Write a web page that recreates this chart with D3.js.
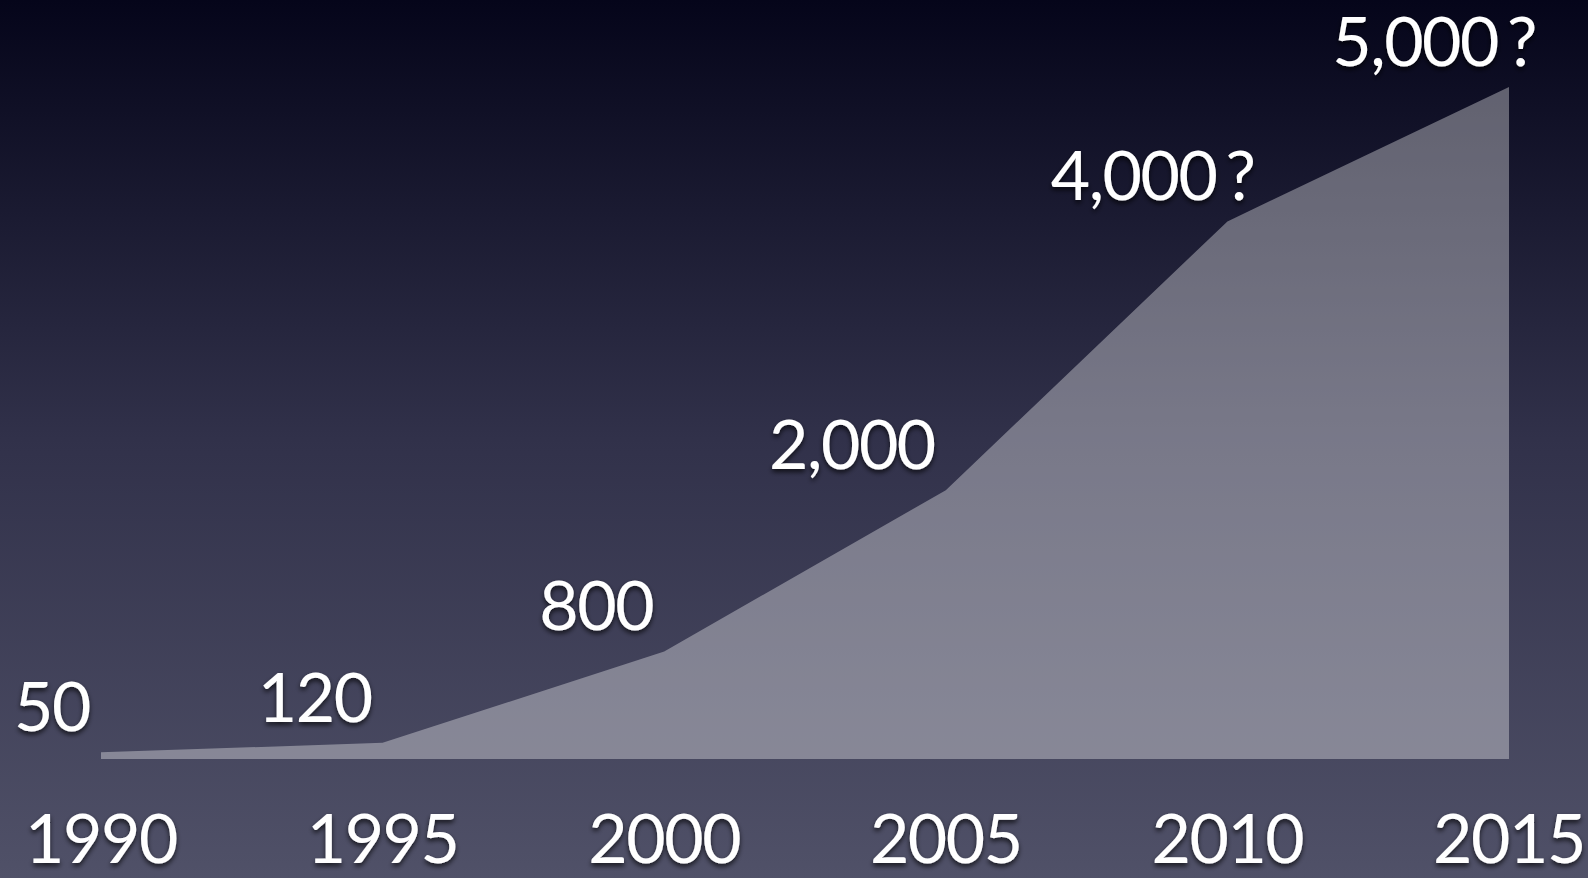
<!DOCTYPE html>
<html>
<head>
<meta charset="utf-8">
<script src="https://cdn.jsdelivr.net/npm/d3@7/dist/d3.min.js"></script>
<style>
  html, body { margin: 0; padding: 0; background: #06061a; overflow: hidden; }
  svg { display: block; }
  text { font-family: Lato, "Open Sans", sans-serif; fill: #ffffff; letter-spacing: -1.5px; }
</style>
</head>
<body>
<svg id="chart" width="1588" height="878"></svg>
<script>
// Years on the horizontal axis
const years = [1990, 1995, 2000, 2005, 2010, 2015];
// Value at each year
const values = [50, 120, 800, 2000, 4000, 5000];
// Text shown above each point
const valueLabels = ["50", "120", "800", "2,000", "4,000", "5,000"];
// Whether the value is an estimate (drawn with a trailing "?")
const estimated = [false, false, false, false, true, true];
// Axis tick labels
const yearLabels = ["1990", "1995", "2000", "2005", "2010", "2015"];

const W = 1588, H = 878;
const svg = d3.select("#chart");
const defs = svg.append("defs");

// Slide background: deep navy fading to slate blue
const bg = defs.append("linearGradient")
  .attr("id", "bg").attr("x1", 0).attr("y1", 0).attr("x2", 0).attr("y2", 1);
bg.append("stop").attr("offset", "0%").attr("stop-color", "#05051a");
bg.append("stop").attr("offset", "50%").attr("stop-color", "#31314a");
bg.append("stop").attr("offset", "100%").attr("stop-color", "#505168");

const shadow = defs.append("filter").attr("id", "shadow")
  .attr("x", "-20%").attr("y", "-20%").attr("width", "140%").attr("height", "150%");
shadow.append("feDropShadow")
  .attr("dx", 0).attr("dy", 3).attr("stdDeviation", 2.5)
  .attr("flood-color", "#000").attr("flood-opacity", 0.7);

svg.append("rect").attr("width", W).attr("height", H).attr("fill", "url(#bg)");

const x = d3.scaleLinear().domain([1990, 2015]).range([101, 1509]);
const y = d3.scaleLinear().domain([0, 5000]).range([759, 87]);

const data = years.map((yr, i) => ({
  year: yr, value: values[i], label: valueLabels[i], est: estimated[i], yearLabel: yearLabels[i]
}));

const area = d3.area()
  .x(d => x(d.year))
  .y0(y(0))
  .y1(d => y(d.value));

svg.append("path")
  .datum(data)
  .attr("d", area)
  .attr("fill", "#ffffff")
  .attr("fill-opacity", 0.35);

const fontSize = 68;

// Year labels along the bottom
svg.append("g").selectAll("text")
  .data(data).join("text")
  .attr("x", d => x(d.year))
  .attr("y", 863)
  .attr("text-anchor", "middle")
  .attr("font-size", fontSize)
  .attr("filter", "url(#shadow)")
  .text(d => d.yearLabel);

// Value labels above and left of each point
const vl = svg.append("g").selectAll("g")
  .data(data).join("g")
  .attr("filter", "url(#shadow)");

vl.append("text")
  .attr("x", d => x(d.year) - 11)
  .attr("y", d => y(d.value) - 21)
  .attr("text-anchor", "end")
  .attr("font-size", fontSize)
  .text(d => d.label);

vl.filter(d => d.est).append("text")
  .attr("x", d => x(d.year) - 2)
  .attr("y", d => y(d.value) - 21)
  .attr("text-anchor", "start")
  .attr("font-size", fontSize)
  .text("?");
</script>
</body>
</html>
